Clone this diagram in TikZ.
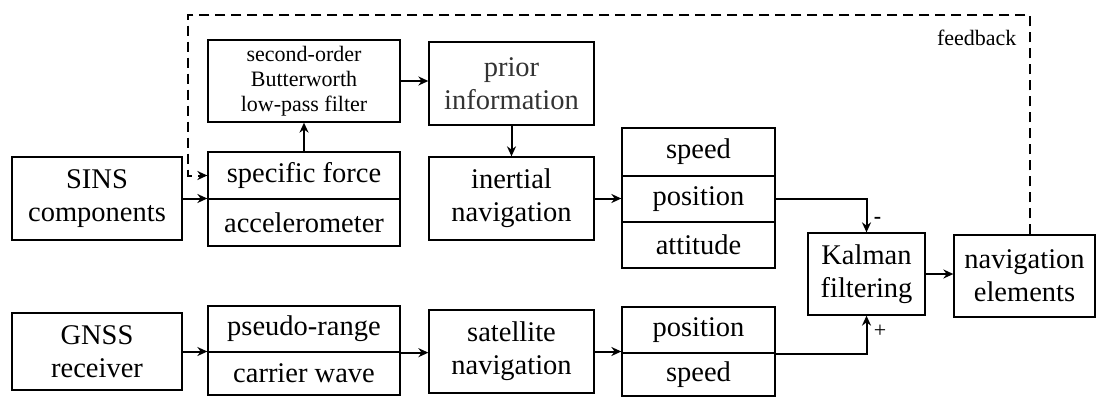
\documentclass[tikz,border=0pt]{standalone}
\usepackage{fontspec}
\setmainfont{Liberation Serif}
\usetikzlibrary{arrows.meta}

\tikzset{
	block/.style={draw, rectangle, line width=1.3pt, inner sep=0pt, align=center,
		font=\fontsize{28.5}{33}\selectfont},
	flow/.style={line width=2pt, ->},
}

\begin{document}
\begin{tikzpicture}[x=1pt, y=-1pt, >={Stealth[length=10pt,width=9pt]}]
	\useasboundingbox (0,0) rectangle (1097,396);
	% upper chain (SINS)
	\node[block, minimum width=170, minimum height=83] (sins) at (97,198.5) {SINS\\components};
	\node[block, minimum width=192, minimum height=47] (force) at (304,175.5) {specific force};
	\node[block, minimum width=192, minimum height=47] (accel) at (304,222.5) {accelerometer};
	\node[block, minimum width=192, minimum height=82, font=\fontsize{22}{25}\selectfont] (filter) at (304,81) {second-order\\Butterworth\\low-pass filter};
	\node[block, minimum width=165, minimum height=83, text=black!80] (prior) at (511.5,83.5) {prior\\information};
	\node[block, minimum width=165, minimum height=83] (inav) at (511.5,198.5) {inertial\\navigation};
		\node[block, minimum width=153, minimum height=48] (ispeed) at (698.5,152) {speed};
		\node[block, minimum width=153, minimum height=46] (ipos) at (698.5,199) {position};
		\node[block, minimum width=153, minimum height=46] (iatt) at (698.5,245) {attitude};
	% fusion
	\node[block, minimum width=117, minimum height=82] (kalman) at (866.5,274) {Kalman\\filtering};
	\node[block, minimum width=141, minimum height=82] (navel) at (1024.5,276) {navigation\\elements};
	% lower chain (GNSS)
	\node[block, minimum width=170, minimum height=77] (gnss) at (97,351.5) {GNSS\\receiver};
	\node[block, minimum width=192, minimum height=46] (pseudo) at (304,329) {pseudo-range};
	\node[block, minimum width=192, minimum height=43] (carrier) at (304,373.5) {carrier wave};
	\node[block, minimum width=165, minimum height=83] (snav) at (511.5,351.5) {satellite\\navigation};
		\node[block, minimum width=153, minimum height=46] (gpos) at (698.5,330) {position};
		\node[block, minimum width=153, minimum height=43] (gspeed) at (698.5,374.5) {speed};
	% connectors
	\draw[flow] (sins.east) -- (sins.east -| force.west);
	\draw[flow] (force.north) -- (filter.south);
	\draw[flow] (filter.east) -- (filter.east -| prior.west);
	\draw[flow] (prior.south) -- (inav.north);
	\draw[flow] (inav.east) -- (inav.east -| ipos.west);
	\draw[flow] (ipos.east) -| node[pos=0.82, right=3pt, font=\bfseries\fontsize{22}{24}\selectfont] {-} (kalman.north);
	\draw[flow] (kalman.east) -- (kalman.east -| navel.west);
	\draw[flow] (gnss.east) -- (gnss.east -| pseudo.west);
	\draw[flow] (pseudo.south east) -- (pseudo.south east -| snav.west);
	\draw[flow] (snav.east) -- (snav.east -| gpos.west);
	\draw[flow] (gpos.south east) -| node[pos=0.8, right=3pt, font=\fontsize{22}{24}\selectfont] {+} (kalman.south);
	% feedback loop
	\coordinate (fbr) at (1030,15);
	\coordinate (fbl) at (188,15);
	\draw[flow, dashed, dash pattern=on 10pt off 6pt] (navel.north -| fbr) -- (fbr) -- (fbl) |- (force.west);
	\node[anchor=east, font=\fontsize{22}{25}\selectfont] (fblabel) at (1020,38) {feedback};
\end{tikzpicture}
\end{document}
